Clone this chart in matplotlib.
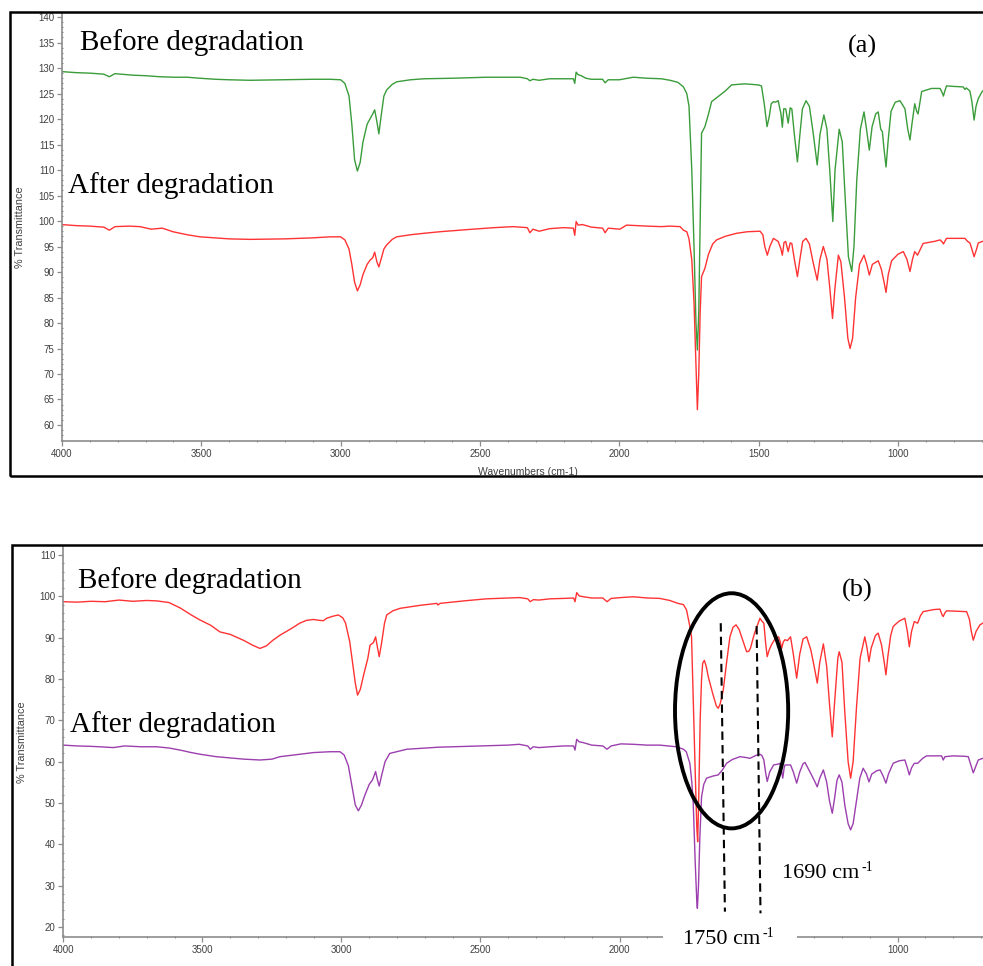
import matplotlib
matplotlib.use("Agg")
import matplotlib.pyplot as plt
from matplotlib.patches import Ellipse, Rectangle
from matplotlib.ticker import MultipleLocator

# ---- (a) spectra : wavenumber (cm-1), % transmittance ----
wn_a_before = [4000, 3950, 3900, 3850, 3830, 3810, 3745, 3700, 3650, 3600, 3550, 3505, 3450, 3400, 3325, 3200,
               3100, 3038, 3000, 2985, 2970, 2960, 2950, 2940, 2930, 2920, 2905, 2895, 2885, 2878, 2870, 2863,
               2855, 2845, 2835, 2815, 2799, 2750, 2700, 2600, 2476, 2400, 2356, 2330, 2321, 2310, 2288, 2250,
               2200, 2165, 2160, 2155, 2148, 2137, 2120, 2100, 2060, 2051, 2040, 2000, 1950, 1900, 1850, 1818,
               1790, 1770, 1758, 1750, 1740, 1732, 1725, 1720, 1715, 1710, 1705, 1693, 1680, 1669, 1639, 1620,
               1597, 1550, 1502, 1490, 1480, 1470, 1462, 1455, 1447, 1440, 1430, 1420, 1415, 1410, 1403, 1394,
               1387, 1381, 1372, 1361, 1352, 1343, 1330, 1318, 1305, 1290, 1280, 1266, 1255, 1245, 1234, 1226,
               1211, 1200, 1190, 1178, 1166, 1158, 1148, 1135, 1122, 1113, 1103, 1093, 1080, 1071, 1062, 1056,
               1050, 1043, 1035, 1025, 1010, 993, 975, 965, 957, 950, 940, 933, 928, 915, 880, 849, 840, 837,
               832, 826, 800, 766, 760, 755, 742, 735, 727, 720, 712, 697]
t_a_before = [129.3, 129.1, 129.0, 128.8, 128.3, 128.9, 128.6, 128.5, 128.3, 128.2, 128.2, 128.0, 127.8, 127.7,
              127.6, 127.7, 127.8, 127.8, 127.7, 127.0, 124.5, 119.0, 112.0, 109.8, 111.5, 115.5, 119.0, 120.0,
              121.0, 121.8, 119.5, 117.1, 120.5, 124.5, 125.7, 126.8, 127.3, 127.7, 127.9, 128.0, 128.2, 128.2,
              128.2, 127.9, 127.5, 127.8, 127.6, 127.9, 127.9, 127.9, 127.0, 129.2, 128.7, 128.5, 128.0, 127.8,
              127.8, 127.1, 127.7, 127.7, 128.2, 128.0, 127.9, 127.6, 127.2, 126.3, 125.0, 122.5, 110.0, 95.0,
              80.0, 74.7, 82.0, 100.0, 117.2, 118.5, 121.0, 123.4, 124.7, 125.5, 126.7, 126.9, 126.7, 126.5,
              123.0, 118.5, 120.5, 123.0, 123.4, 123.3, 123.6, 121.0, 118.4, 122.0, 122.0, 119.2, 122.2, 122.0,
              117.0, 111.6, 117.0, 122.0, 123.6, 122.5, 117.5, 111.0, 117.0, 120.8, 118.0, 110.0, 99.9, 110.0,
              118.0, 115.5, 105.0, 93.0, 90.1, 95.0, 108.0, 118.0, 121.4, 118.0, 113.9, 118.5, 121.0, 121.4,
              118.0, 117.5, 114.0, 110.6, 116.0, 121.5, 123.3, 123.6, 122.0, 118.0, 115.9, 119.0, 123.0, 121.5,
              121.0, 125.4, 126.0, 126.0, 125.0, 124.5, 125.5, 126.5, 126.4, 126.3, 125.8, 126.1, 125.5, 123.5,
              119.8, 122.5, 124.0, 125.5]

wn_a_after = [4000, 3950, 3900, 3850, 3830, 3810, 3760, 3720, 3680, 3640, 3602, 3550, 3505, 3450, 3400, 3325,
              3200, 3100, 3038, 3000, 2985, 2970, 2960, 2950, 2940, 2930, 2920, 2905, 2895, 2885, 2878, 2870,
              2863, 2855, 2845, 2835, 2815, 2799, 2750, 2700, 2644, 2550, 2450, 2381, 2330, 2321, 2310, 2288,
              2250, 2200, 2165, 2160, 2155, 2148, 2132, 2100, 2060, 2051, 2040, 1998, 1974, 1900, 1850, 1818,
              1782, 1770, 1758, 1750, 1740, 1732, 1725, 1720, 1715, 1710, 1705, 1693, 1680, 1665, 1651, 1620,
              1579, 1540, 1495, 1485, 1478, 1469, 1460, 1447, 1430, 1420, 1415, 1409, 1403, 1394, 1387, 1381,
              1372, 1361, 1352, 1342, 1330, 1318, 1305, 1290, 1280, 1268, 1255, 1245, 1235, 1226, 1214, 1205,
              1192, 1180, 1172, 1163, 1152, 1138, 1122, 1112, 1103, 1092, 1071, 1060, 1050, 1043, 1035, 1023,
              1000, 981, 968, 957, 948, 940, 930, 910, 870, 849, 840, 837, 832, 826, 760, 750, 742, 735, 727,
              718, 712, 697]
t_a_after = [99.3, 99.1, 99.0, 98.8, 98.2, 98.9, 99.0, 98.9, 98.4, 98.6, 97.9, 97.3, 96.9, 96.7, 96.5, 96.4,
             96.5, 96.7, 96.9, 96.9, 96.3, 94.5, 91.5, 88.0, 86.3, 87.5, 89.5, 91.5, 92.3, 92.8, 93.9, 92.0,
             91.0, 92.5, 94.5, 95.3, 96.4, 96.9, 97.3, 97.6, 97.9, 98.3, 98.7, 98.9, 98.7, 97.7, 98.4, 98.0,
             98.5, 98.7, 98.6, 97.2, 99.9, 99.2, 99.3, 98.8, 98.6, 97.7, 98.6, 98.4, 99.2, 99.0, 98.9, 99.0,
             98.9, 98.2, 97.9, 96.5, 92.4, 84.0, 72.0, 63.0, 70.0, 82.0, 89.1, 90.7, 93.5, 95.5, 96.3, 97.0,
             97.6, 97.9, 98.0, 97.3, 95.0, 93.3, 95.0, 96.6, 96.0, 94.5, 93.3, 95.8, 96.0, 94.0, 95.7, 95.6,
             92.5, 89.1, 92.5, 96.0, 96.6, 95.5, 92.0, 88.4, 92.5, 95.0, 92.5, 87.0, 80.9, 87.0, 93.3, 92.0,
             85.0, 77.0, 75.0, 77.0, 85.0, 91.5, 93.3, 91.5, 89.4, 91.5, 92.2, 90.6, 88.0, 86.0, 89.5, 92.2,
             93.5, 94.0, 92.5, 90.1, 92.5, 94.0, 93.3, 95.6, 96.0, 96.3, 95.8, 95.5, 96.0, 96.6, 96.6, 96.0,
             95.7, 94.5, 93.0, 94.5, 95.7, 96.0]

# ---- (b) spectra ----
wn_b_before = [4000, 3950, 3900, 3850, 3800, 3750, 3700, 3664, 3620, 3580, 3540, 3509, 3470, 3437, 3400, 3350,
               3320, 3293, 3270, 3246, 3221, 3180, 3150, 3125, 3100, 3080, 3065, 3053, 3030, 3011, 2995, 2985,
               2970, 2960, 2950, 2942, 2932, 2920, 2905, 2897, 2885, 2877, 2870, 2864, 2856, 2845, 2837, 2815,
               2789, 2720, 2657, 2653, 2645, 2560, 2478, 2400, 2359, 2330, 2321, 2310, 2290, 2250, 2200, 2165,
               2160, 2154, 2145, 2130, 2100, 2060, 2045, 2030, 1995, 1951, 1900, 1855, 1819, 1790, 1770, 1759,
               1747, 1741, 1735, 1728, 1722, 1719, 1715, 1710, 1705, 1701, 1695, 1688, 1681, 1665, 1652, 1645,
               1638, 1627, 1615, 1603, 1592, 1581, 1570, 1555, 1543, 1535, 1529, 1515, 1495, 1488, 1481, 1475,
               1469, 1462, 1452, 1440, 1428, 1422, 1417, 1411, 1405, 1396, 1385, 1375, 1363, 1352, 1340, 1327,
               1312, 1300, 1289, 1280, 1267, 1255, 1245, 1235, 1227, 1215, 1210, 1200, 1190, 1178, 1169, 1160,
               1148, 1135, 1118, 1110, 1103, 1095, 1080, 1070, 1058, 1048, 1042, 1035, 1025, 1016, 995, 974,
               965, 958, 950, 940, 928, 918, 908, 870, 848, 840, 836, 830, 824, 790, 752, 742, 735, 728, 718,
               704, 694]
t_b_before = [98.7, 98.6, 98.8, 98.7, 99.1, 98.8, 99.0, 98.9, 98.5, 97.2, 95.5, 94.3, 93.0, 91.4, 90.8, 89.3,
              88.2, 87.4, 88.0, 89.4, 90.6, 92.2, 93.5, 94.2, 94.4, 94.2, 94.1, 94.7, 95.2, 95.5, 94.8, 93.5,
              89.0, 84.0, 79.0, 76.1, 77.5, 81.0, 85.0, 88.2, 88.8, 90.2, 87.5, 85.4, 88.5, 93.5, 95.5, 96.5,
              97.1, 97.8, 98.3, 97.9, 98.3, 98.9, 99.4, 99.6, 99.7, 99.4, 98.7, 99.2, 99.1, 99.4, 99.5, 99.6,
              98.7, 100.9, 100.1, 99.9, 99.6, 99.6, 98.7, 99.5, 99.7, 99.9, 99.6, 99.5, 99.0, 98.3, 98.0, 96.7,
              92.7, 90.2, 75.0, 58.0, 44.0, 40.6, 52.0, 70.0, 80.0, 83.8, 84.5, 83.0, 80.6, 76.5, 73.5, 72.9,
              74.0, 77.3, 84.0, 90.2, 92.5, 93.1, 92.0, 89.0, 86.6, 86.7, 87.5, 91.0, 94.7, 94.0, 93.5, 89.0,
              85.4, 87.0, 88.5, 89.8, 90.2, 89.0, 87.4, 89.0, 89.5, 89.3, 90.2, 86.0, 80.2, 86.0, 89.7, 90.2,
              87.0, 83.0, 79.0, 84.0, 88.5, 83.0, 74.0, 66.0, 74.0, 85.0, 86.6, 84.0, 72.0, 60.0, 56.0, 60.0,
              73.0, 85.0, 90.2, 87.5, 84.2, 87.5, 90.5, 91.1, 88.3, 84.0, 81.0, 85.5, 90.5, 92.7, 94.0, 94.7,
              91.5, 87.8, 91.5, 93.9, 93.5, 95.3, 96.3, 96.8, 96.9, 95.5, 95.1, 96.0, 96.5, 96.4, 96.3, 94.5,
              91.5, 89.4, 91.5, 93.1, 93.5]

wn_b_after = [4000, 3950, 3900, 3870, 3820, 3780, 3720, 3664, 3620, 3580, 3540, 3509, 3450, 3400, 3350, 3293,
              3250, 3221, 3150, 3100, 3041, 3005, 2990, 2975, 2962, 2950, 2939, 2928, 2915, 2900, 2888, 2877,
              2870, 2864, 2856, 2843, 2826, 2765, 2650, 2499, 2400, 2361, 2330, 2321, 2310, 2290, 2250, 2200,
              2165, 2160, 2154, 2145, 2130, 2100, 2060, 2045, 2030, 1995, 1951, 1900, 1855, 1795, 1770, 1760,
              1747, 1740, 1735, 1728, 1722, 1720, 1716, 1711, 1705, 1697, 1687, 1665, 1645, 1630, 1615, 1595,
              1567, 1545, 1531, 1510, 1495, 1488, 1481, 1475, 1469, 1460, 1446, 1430, 1423, 1418, 1413, 1408,
              1405, 1395, 1385, 1375, 1363, 1352, 1340, 1333, 1315, 1300, 1289, 1280, 1267, 1255, 1245, 1235,
              1227, 1218, 1210, 1200, 1190, 1178, 1169, 1160, 1148, 1136, 1124, 1112, 1103, 1093, 1075, 1063,
              1052, 1042, 1033, 1016, 995, 974, 965, 958, 950, 940, 928, 910, 896, 860, 842, 836, 830, 800, 760,
              746, 738, 728, 718, 710, 694]
t_b_after = [64.0, 63.8, 63.7, 63.6, 63.4, 63.8, 63.6, 63.6, 63.3, 62.8, 62.2, 61.8, 61.2, 60.9, 60.6, 60.4,
             60.6, 61.2, 61.8, 62.2, 62.4, 62.4, 61.6, 59.0, 54.0, 49.5, 48.1, 49.5, 52.0, 54.5, 55.6, 57.6,
             55.5, 54.1, 56.5, 60.0, 62.0, 63.0, 63.5, 63.8, 64.0, 64.2, 63.8, 63.0, 63.6, 63.4, 63.6, 63.8,
             63.8, 62.8, 65.4, 64.8, 64.6, 64.0, 63.8, 63.0, 63.8, 64.3, 64.2, 64.0, 64.0, 63.6, 63.0, 62.4,
             59.6, 55.0, 50.0, 36.0, 26.0, 24.5, 30.0, 42.0, 51.5, 54.5, 56.0, 56.5, 56.8, 58.0, 59.6, 60.5,
             61.2, 61.0, 60.8, 61.5, 61.8, 61.5, 60.4, 57.5, 55.2, 57.5, 59.2, 59.4, 59.6, 58.0, 56.0, 58.5,
             59.2, 59.2, 59.2, 57.5, 54.8, 57.5, 59.5, 59.8, 57.5, 55.5, 53.9, 56.0, 58.0, 55.0, 50.5, 47.5,
             51.0, 55.5, 56.8, 55.0, 49.5, 45.0, 43.5, 45.0, 50.5, 56.0, 58.4, 57.0, 55.1, 57.0, 57.8, 58.0,
             56.5, 54.8, 57.0, 59.6, 60.2, 60.4, 58.5, 56.8, 58.5, 59.6, 59.6, 60.8, 61.4, 61.4, 61.4, 60.4,
             61.2, 61.4, 61.3, 61.2, 59.5, 57.3, 59.0, 60.4, 60.8]

x_ticks = [4000, 3500, 3000, 2500, 2000, 1500, 1000]
x_labels_a = ['4000', '3500', '3000', '2500', '2000', '1500', '1000']
x_labels_b = ['4000', '3500', '3000', '2500', '2000', '', '1000']   # 1500 sits under the label patch

W, H = 983, 966
fig = plt.figure(figsize=(W / 100, H / 100), dpi=100)

gray = '#8c8c8c'
txtgray = '#404040'


def setup(ax, xlo, xlabels):
    ax.set_facecolor('none')
    ax.set_xlim(4000, xlo)
    for s in ['top', 'right']:
        ax.spines[s].set_visible(False)
    for s in ['left', 'bottom']:
        ax.spines[s].set_color(gray)
        ax.spines[s].set_linewidth(1.2)
    ax.set_xticks(x_ticks, xlabels)
    ax.xaxis.set_minor_locator(MultipleLocator(100))
    ax.tick_params(which='major', length=3.5, width=0.9, color=gray, labelsize=7,
                   labelcolor=txtgray, pad=2)
    ax.tick_params(which='minor', length=2, width=0.8, color=gray, direction='inout')
    for lab in ax.get_xticklabels() + ax.get_yticklabels():
        lab.set_family('Liberation Sans')
    ax.set_xlabel('Wavenumbers (cm-1)', fontsize=7.5, color=txtgray, family='Liberation Sans')
    ax.set_ylabel('% Transmittance', fontsize=7.8, color=txtgray, family='Liberation Sans')
    ax.yaxis.set_label_coords(-0.040, 0.5)


# panel (a)
ax1 = fig.add_axes([62 / W, (H - 441) / H, (W - 62) / W, (441 - 14) / H])
ax1.plot(wn_a_before, t_a_before, color='#3a9c3a', lw=1.0)
ax1.plot(wn_a_after, t_a_after, color='#ff3333', lw=1.0)
ax1.yaxis.set_major_locator(MultipleLocator(5))
ax1.yaxis.set_minor_locator(MultipleLocator(1))
setup(ax1, 695, x_labels_a)
ax1.set_ylim(56.86, 140.6)
ax1.xaxis.set_label_coords((528 - 62) / (W - 62), -(467 - 441) / (441 - 14))

# panel (b)
ax2 = fig.add_axes([63.3 / W, (H - 937) / H, (W - 63.3) / W, (937 - 547) / H])
ax2.plot(wn_b_before, t_b_before, color='#ff3333', lw=1.0)
ax2.plot(wn_b_after, t_b_after, color='#9c3fae', lw=1.0)
ax2.yaxis.set_major_locator(MultipleLocator(10))
ax2.yaxis.set_minor_locator(MultipleLocator(2))
setup(ax2, 693, x_labels_b)
ax2.set_ylim(17.57, 111.94)
ax2.xaxis.set_label_coords((530 - 63.3) / (W - 63.3), -(966 - 937) / (937 - 547))

# circle + dashed guides
ax2.add_patch(Ellipse((1597, 72.3), 407, 56.9, fill=False, ec='black', lw=2.8, clip_on=False, zorder=4))
ax2.plot([1636, 1621], [93.5, 23.7], color='black', lw=1.5, dashes=(4, 2.5), clip_on=False, zorder=4)
ax2.plot([1507, 1493], [92.8, 23.3], color='black', lw=1.5, dashes=(4, 2.5), clip_on=False, zorder=4)

# outer frames
fig.add_artist(Rectangle((10 / W, (H - 476) / H), (W + 20 - 10) / W, (476 - 12) / H,
                         transform=fig.transFigure, fill=False, ec='black', lw=1.8, zorder=5))
fig.add_artist(Rectangle((12 / W, -0.05), (W + 20 - 12) / W, (H - 545) / H + 0.05,
                         transform=fig.transFigure, fill=False, ec='black', lw=1.8, zorder=5))
# white patch behind the 1750 label
fig.add_artist(Rectangle((663 / W, -0.01), (797 - 663) / W, (H - 916) / H + 0.01,
                         transform=fig.transFigure, fc='white', ec='none', zorder=6))

serif = 'Liberation Serif'
fig.text(80 / W, (H - 50) / H, 'Before degradation', family=serif, fontsize=21, va='baseline', zorder=7)
fig.text(68 / W, (H - 193) / H, 'After degradation', family=serif, fontsize=21, va='baseline', zorder=7)
fig.text(862 / W, (H - 53) / H, '(a)', family=serif, fontsize=19, va='baseline', ha='center', zorder=7)
fig.text(78 / W, (H - 588) / H, 'Before degradation', family=serif, fontsize=21, va='baseline', zorder=7)
fig.text(70 / W, (H - 732) / H, 'After degradation', family=serif, fontsize=21, va='baseline', zorder=7)
fig.text(857 / W, (H - 597) / H, '(b)', family=serif, fontsize=19, va='baseline', ha='center', zorder=7)

# wavenumber labels with a small raised "-1"
fig.canvas.draw()
rend = fig.canvas.get_renderer()
for x0, base, lab in [(782, 878, '1690 cm'), (683, 944, '1750 cm')]:
    t = fig.text(x0 / W, (H - base) / H, lab, family=serif, fontsize=16, va='baseline', zorder=7)
    bb = t.get_window_extent(rend)
    fig.text((bb.x1 + 2) / W, (H - base + 7) / H, '-1', family=serif, fontsize=10, va='baseline', zorder=7)

fig.savefig('out.png', dpi=100)
